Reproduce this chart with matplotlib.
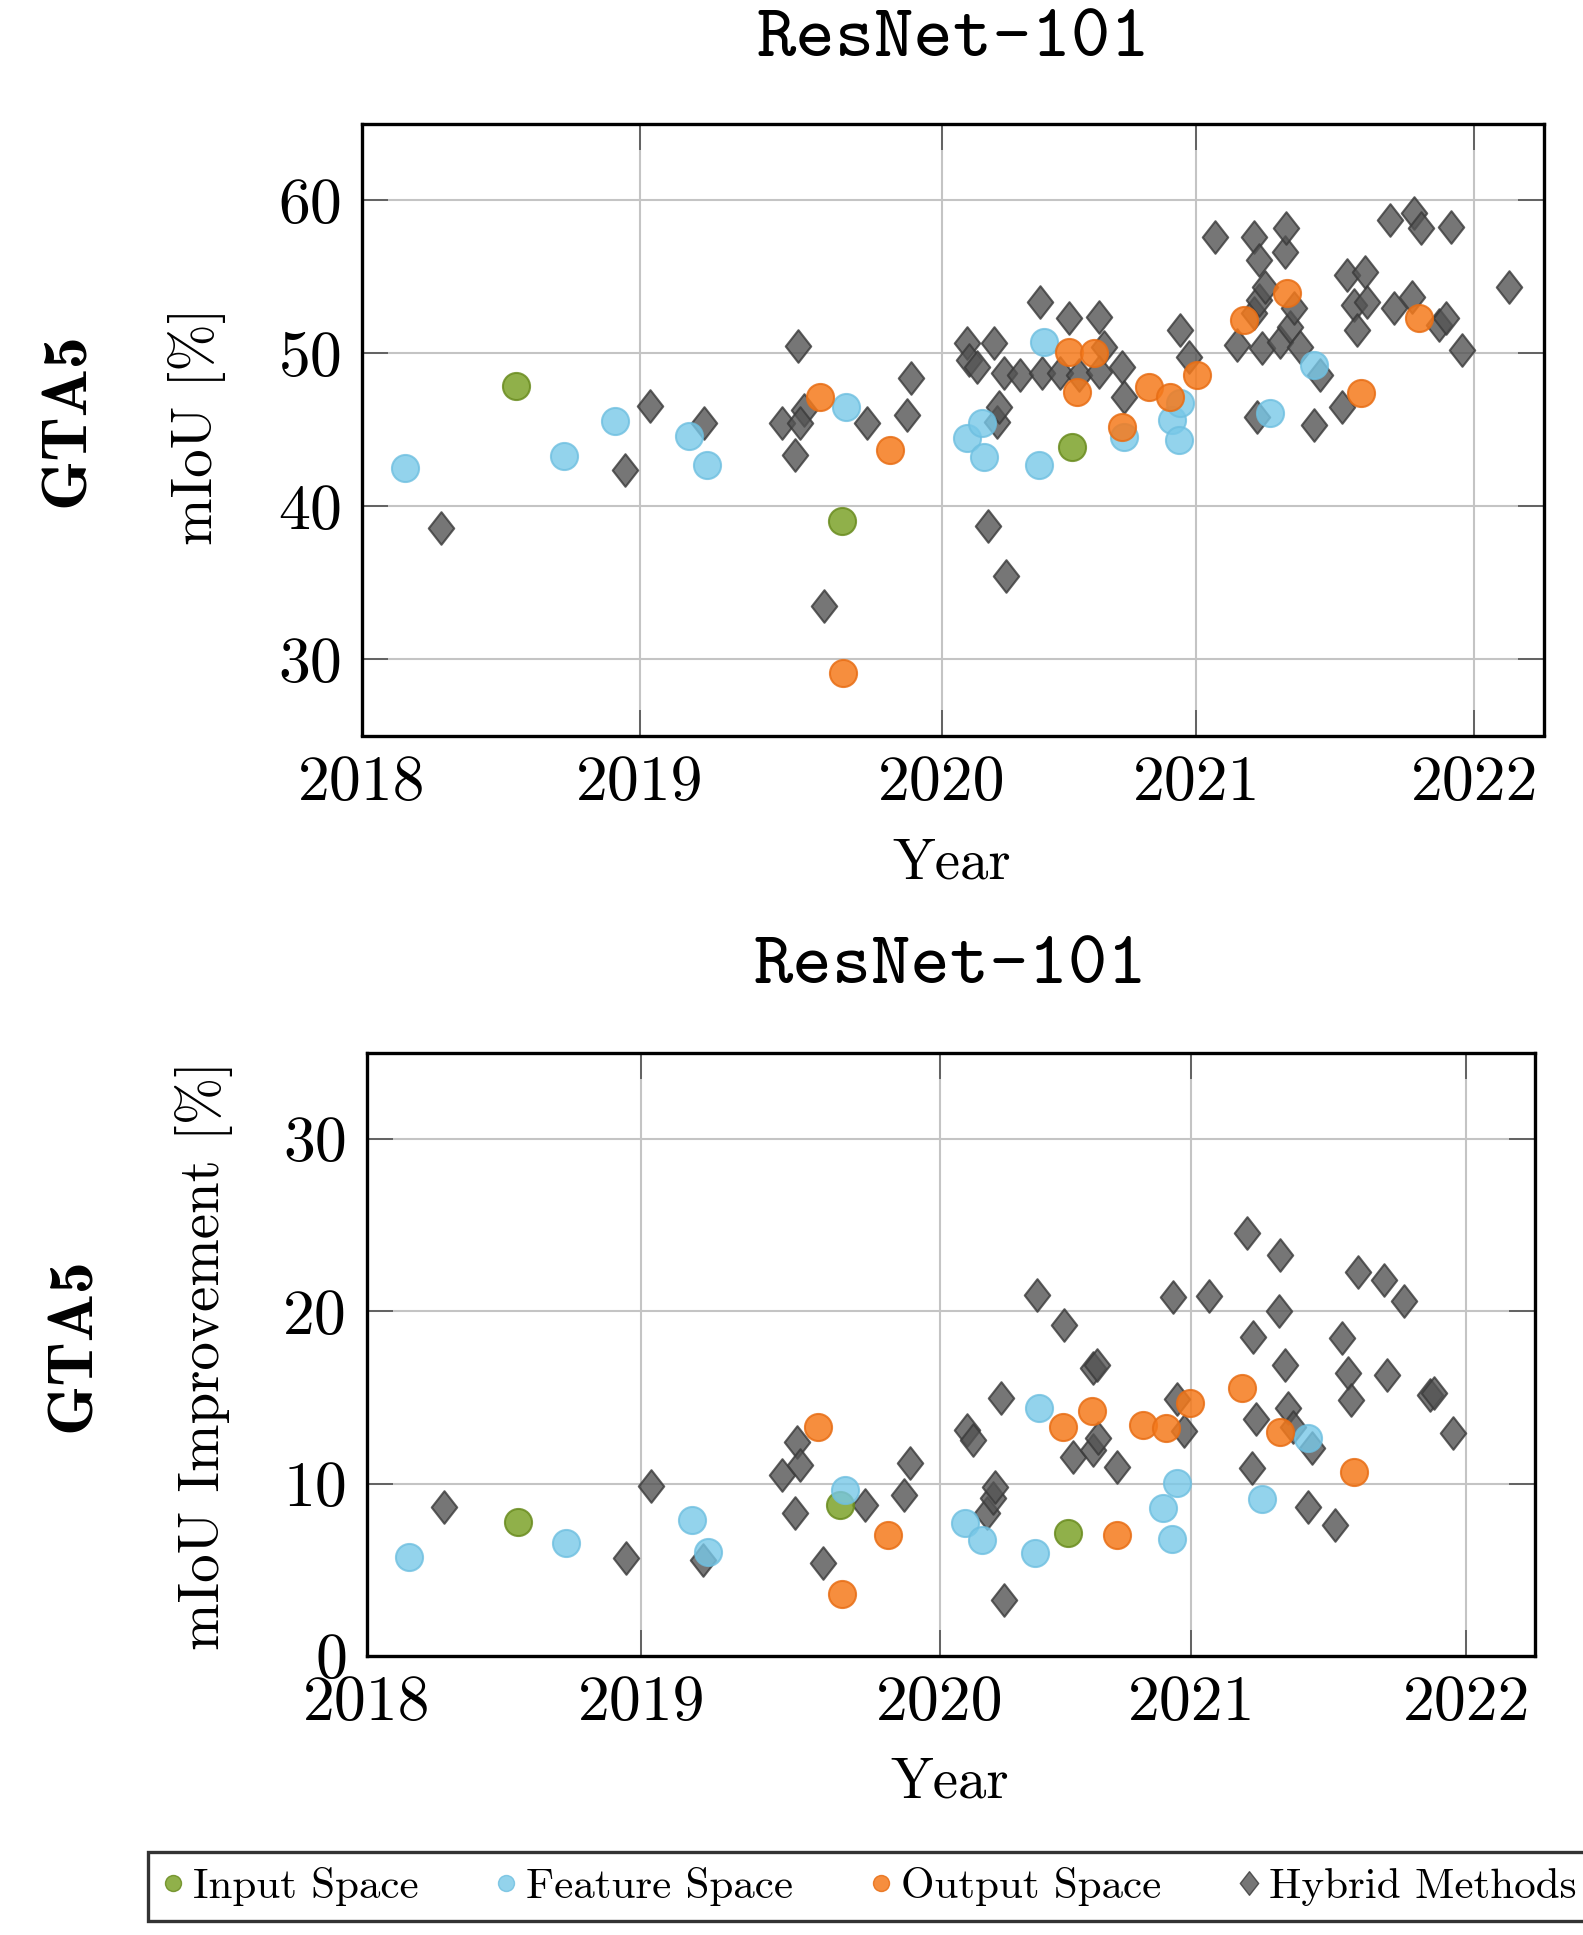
import matplotlib
matplotlib.use("Agg")
import matplotlib.pyplot as plt
from matplotlib.path import Path
from matplotlib.lines import Line2D

# ---------------- data ----------------
year_ticks = [2018, 2019, 2020.085, 2021, 2022]
year_labels = ["2018", "2019", "2020", "2021", "2022"]
top_yticks = [30, 40, 50, 60]
bot_yticks = [0, 10, 20, 30]

# --- top panel: mIoU [%] ---
input_year_a = [2018.554, 2019.726, 2020.552]
input_miou = [47.86, 39.05, 43.89]

feature_year_a = [2018.155, 2018.728, 2018.908, 2019.177, 2019.241, 2019.741, 2020.175,
                  2020.229, 2020.235, 2020.433, 2020.451, 2020.739, 2020.913, 2020.937,
                  2020.942, 2021.266, 2021.422]
feature_miou = [42.52, 43.28, 45.59, 44.59, 42.68, 46.51, 44.44, 45.42, 43.24, 42.69,
                50.76, 44.55, 45.64, 44.33, 46.73, 46.12, 49.23]

output_year_a = [2019.647, 2019.730, 2019.899, 2020.541, 2020.571, 2020.631, 2020.733,
                 2020.829, 2020.906, 2021.002, 2021.170, 2021.326, 2021.592, 2021.800]
output_miou = [47.16, 29.09, 43.68, 50.10, 47.49, 50.00, 45.20, 47.82, 47.16, 48.58,
               52.18, 53.92, 47.42, 52.29]

hybrid_year_a = [2018.284, 2018.944, 2019.037, 2019.228, 2019.510, 2019.569, 2019.558,
                 2019.588, 2019.576, 2019.662, 2019.815, 2019.959, 2019.974,
                 2020.175, 2020.181, 2020.211, 2020.271, 2020.251, 2020.283, 2020.289,
                 2020.307, 2020.315, 2020.367, 2020.439, 2020.445, 2020.511, 2020.541,
                 2020.577, 2020.649, 2020.667, 2020.649, 2020.733, 2020.739, 2020.942,
                 2020.972, 2021.068, 2021.146, 2021.206, 2021.206, 2021.224, 2021.224,
                 2021.218, 2021.236, 2021.248, 2021.302, 2021.320, 2021.324, 2021.338,
                 2021.350, 2021.374, 2021.446, 2021.422, 2021.524, 2021.542, 2021.566,
                 2021.578, 2021.608, 2021.614, 2021.698, 2021.710, 2021.776, 2021.782,
                 2021.806, 2021.872, 2021.896, 2021.914, 2021.956, 2022.124]
hybrid_miou = [38.55, 42.37, 46.57, 45.45, 45.42, 50.48, 43.35,
               46.29, 45.42, 33.49, 45.46, 45.96, 48.36,
               50.65, 49.56, 49.12, 50.65, 38.70, 45.53, 46.51,
               48.69, 35.44, 48.58, 53.37, 48.69, 48.69, 52.29,
               48.58, 52.39, 50.40, 48.80, 49.12, 47.16, 51.52,
               49.78, 57.63, 50.54, 57.63, 52.62, 56.10, 53.49,
               45.85, 50.33, 54.36, 50.76, 56.65, 58.18, 51.74,
               52.94, 50.43, 48.58, 45.31, 46.51, 55.12, 53.16,
               51.52, 55.34, 53.37, 58.72, 52.94, 53.70, 59.16,
               58.18, 51.85, 52.29, 58.28, 50.22, 54.36]

# --- bottom panel: mIoU improvement [%] ---
input_year_b = [2018.552, 2019.722, 2020.553]
input_imp = [7.80, 8.77, 7.12]

feature_year_b = [2018.155, 2018.726, 2019.183, 2019.243, 2019.741, 2020.177, 2020.238,
                  2020.432, 2020.447, 2020.896, 2020.931, 2020.947, 2021.256, 2021.426]
feature_imp = [5.77, 6.58, 7.90, 6.06, 9.63, 7.70, 6.74, 6.00, 14.41, 8.61, 6.78, 10.02,
               9.10, 12.63]

output_year_b = [2019.643, 2019.729, 2019.898, 2020.535, 2020.638, 2020.729, 2020.826,
                 2020.908, 2020.996, 2021.184, 2021.323, 2021.593]
output_imp = [13.30, 3.61, 7.03, 13.30, 14.21, 7.03, 13.40, 13.21, 14.70, 15.53, 13.01,
              10.70]

hybrid_year_b = [2018.283, 2018.943, 2019.035, 2019.225, 2019.510, 2019.565, 2019.577,
                 2019.559, 2019.662, 2019.813, 2019.955, 2019.975, 2020.183, 2020.207,
                 2020.256, 2020.278, 2020.286, 2020.307, 2020.317, 2020.438, 2020.537,
                 2020.571, 2020.644, 2020.656, 2020.644, 2020.662, 2020.729, 2020.935,
                 2020.949, 2020.974, 2021.066, 2021.202, 2021.220, 2021.224, 2021.236,
                 2021.320, 2021.323, 2021.341, 2021.353, 2021.371, 2021.424, 2021.438,
                 2021.521, 2021.547, 2021.569, 2021.580, 2021.608, 2021.702, 2021.711,
                 2021.774, 2021.869, 2021.881, 2021.953]
hybrid_imp = [8.67, 5.68, 9.87, 5.58, 10.50, 12.43, 11.08,
              8.28, 5.42, 8.77, 9.35, 11.18, 13.11, 12.53,
              8.28, 9.15, 9.83, 14.95, 3.26, 20.94, 19.20,
              11.57, 16.69, 16.88, 11.95, 12.63, 10.99, 20.81,
              14.89, 13.07, 20.90, 24.52, 10.89, 18.52, 13.73,
              20.01, 23.26, 16.88, 14.37, 13.30, 8.67, 12.05,
              7.61, 18.43, 16.43, 14.85, 22.29, 21.81, 16.30,
              20.61, 15.14, 15.28, 12.92]

categories = ["Input Space", "Feature Space", "Output Space", "Hybrid Methods"]

# ---------------- style ----------------
plt.rcParams["font.family"] = ["cmr10", "DejaVu Serif"]
plt.rcParams["axes.unicode_minus"] = False
plt.rcParams["mathtext.fontset"] = "cm"

W, H = 1583, 1935
fig = plt.figure(figsize=(W / 100, H / 100), dpi=100)

diamond = Path([(0, 1), (0.78, 0), (0, -1), (-0.78, 0), (0, 1)],
               [Path.MOVETO, Path.LINETO, Path.LINETO, Path.LINETO, Path.CLOSEPOLY])

styles = {
    "Input Space": dict(marker="o", mfc="#7da22a", mec="#6a8c1f", ms=19.5, alpha=0.85),
    "Feature Space": dict(marker="o", mfc="#78c8e8", mec="#6ebfe0", ms=19.5, alpha=0.8),
    "Output Space": dict(marker="o", mfc="#f57a1c", mec="#e86e15", ms=19.5, alpha=0.85),
    "Hybrid Methods": dict(marker=diamond, mfc="#545454", mec="#3a3a3a", ms=23.5, alpha=0.8),
}


def fpos(left, top, right, bottom):
    return [left / W, 1 - bottom / H, (right - left) / W, (bottom - top) / H]


def setup(ax, ylim, yticks):
    ax.set_xlim(2018, 2022.25)
    ax.set_ylim(*ylim)
    ax.set_xticks(year_ticks)
    ax.set_xticklabels(year_labels)
    ax.set_yticks(yticks)
    ax.set_yticklabels([str(v) for v in yticks])
    ax.grid(True, color="#c4c4c4", linewidth=1.5, zorder=0)
    ax.set_axisbelow(True)
    ax.tick_params(direction="in", length=19, width=1.3, color="#5a5a5a",
                   top=True, right=True, labelsize=46, pad=14)
    for s in ax.spines.values():
        s.set_linewidth(2.4)
        s.set_color("black")


def draw(ax, sets):
    order = ["Hybrid Methods", "Input Space", "Feature Space", "Output Space"]
    for name in order:
        xs, ys = sets[name]
        st = styles[name]
        ax.plot(xs, ys, linestyle="none", marker=st["marker"], markersize=st["ms"],
                markerfacecolor=st["mfc"], markeredgecolor=st["mec"],
                markeredgewidth=1.5, alpha=st["alpha"], zorder=3)


ax1 = fig.add_axes(fpos(362, 124, 1544, 735.5))
setup(ax1, (25, 65), top_yticks)
draw(ax1, {
    "Input Space": (input_year_a, input_miou),
    "Feature Space": (feature_year_a, feature_miou),
    "Output Space": (output_year_a, output_miou),
    "Hybrid Methods": (hybrid_year_a, hybrid_miou),
})

ax2 = fig.add_axes(fpos(366.5, 1052.5, 1535, 1656))
setup(ax2, (0, 35), bot_yticks)
draw(ax2, {
    "Input Space": (input_year_b, input_imp),
    "Feature Space": (feature_year_b, feature_imp),
    "Output Space": (output_year_b, output_imp),
    "Hybrid Methods": (hybrid_year_b, hybrid_imp),
})

# titles
fig.text(953 / W, 1 - 41 / H, "ResNet-101", family=["cmtt10", "DejaVu Sans Mono"],
         fontsize=54, ha="center", va="center")
fig.text(950 / W, 1 - 968 / H, "ResNet-101", family=["cmtt10", "DejaVu Sans Mono"],
         fontsize=54, ha="center", va="center")

# axis labels
fig.text(952 / W, 1 - 864 / H, "Year", fontsize=41, ha="center", va="center")
fig.text(950 / W, 1 - 1783 / H, "Year", fontsize=41, ha="center", va="center")
fig.text(197 / W, 1 - 426 / H, "mIoU [%]", fontsize=41, rotation=90,
         ha="center", va="center")
fig.text(204 / W, 1 - 1355 / H, "mIoU Improvement [%]", fontsize=41, rotation=90,
         ha="center", va="center")
fig.text(68 / W, 1 - 420 / H, "GTA5", family=["cmb10", "DejaVu Serif"], fontsize=46,
         rotation=90, ha="center", va="center")
fig.text(74 / W, 1 - 1345 / H, "GTA5", family=["cmb10", "DejaVu Serif"], fontsize=46,
         rotation=90, ha="center", va="center")

# legend
handles = []
for name in categories:
    st = styles[name]
    handles.append(Line2D([], [], linestyle="none", marker=st["marker"],
                          markersize=11.5 if st["marker"] == "o" else 17,
                          markerfacecolor=st["mfc"], markeredgecolor=st["mec"],
                          alpha=st["alpha"]))
leg = fig.legend(handles, categories, loc="upper left",
                 bbox_to_anchor=(148 / W, 1 - 1852 / H), ncol=4, fontsize=31,
                 frameon=True, fancybox=False, borderaxespad=0, borderpad=0.35,
                 handlelength=0.45, handletextpad=0.25, columnspacing=1.8)
leg.get_frame().set_edgecolor("black")
leg.get_frame().set_linewidth(2.4)

fig.savefig("out.png", dpi=100)
